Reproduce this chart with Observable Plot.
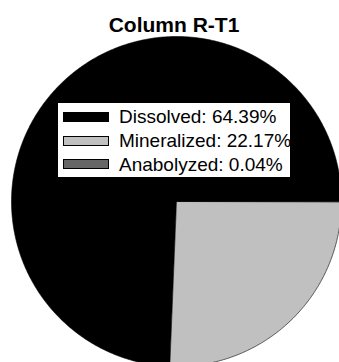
<!DOCTYPE html>
<html>
<head>
<meta charset="utf-8">
<script src="https://cdn.jsdelivr.net/npm/d3@7"></script>
<script src="https://cdn.jsdelivr.net/npm/@observablehq/plot@0.6"></script>
<style>
  html, body { margin: 0; padding: 0; background: #fff; overflow: hidden; }
  body { width: 339px; height: 362px; position: relative; font-family: "Liberation Sans", Arial, sans-serif; }
  #title { position: absolute; left: 0; top: 0; width: 348px; text-align: center;
           font-weight: bold; font-size: 21px; line-height: 21px; padding-top: 14px; color: #000; }
  #chart { position: absolute; left: 0; top: 36px; }
  #legend { position: absolute; left: 57px; top: 102px; width: 232px; height: 74px;
            border: 1px solid #000; background: #fff; }
  .patch { position: absolute; width: 44px; height: 8px; border: 1px solid #000; }
  .label { position: absolute; font-size: 19px; line-height: 19px; white-space: nowrap; color: #000; }
</style>
</head>
<body>
<div id="title"></div>
<div id="chart"></div>
<div id="legend"></div>
<script>
const title = "Column R-T1";
const categories = ["Dissolved", "Mineralized", "Anabolyzed"];
const values = [64.39, 22.17, 0.04];
const labels = ["Dissolved: 64.39%", "Mineralized: 22.17%", "Anabolyzed: 0.04%"];
const palette = ["#000000", "#c0c0c0", "#666666"];

document.getElementById("title").textContent = title;

// slice angles: start at 3 o'clock, counterclockwise, normalized
const total = d3.sum(values);
let acc = 0;
const slices = categories.map((c, i) => {
  const a0 = acc / total * 2 * Math.PI;
  acc += values[i];
  const a1 = acc / total * 2 * Math.PI;
  const pts = [{x: 0, y: 0}];
  const n = Math.max(2, Math.ceil((a1 - a0) / (Math.PI / 360)));
  for (let k = 0; k <= n; k++) {
    const a = a0 + (a1 - a0) * k / n;
    pts.push({x: Math.cos(a), y: Math.sin(a)});
  }
  return {category: c, color: palette[i], pts};
});

const chart = Plot.plot({
  width: 339,
  height: 326,
  margin: 0,
  x: {domain: [-1, 1], range: [11, 341], axis: null},
  y: {domain: [-1, 1], range: [330, 0], axis: null},
  marks: slices.map(s => Plot.line(s.pts, {
    x: "x", y: "y", curve: "linear-closed",
    fill: s.color, stroke: "#000", strokeWidth: 0.6
  }))
});
document.getElementById("chart").appendChild(chart);

// legend
const legend = document.getElementById("legend");
categories.forEach((c, i) => {
  const p = document.createElement("div");
  p.className = "patch";
  p.style.left = (63 - 58) + "px";
  p.style.top = (112 - 103 + i * 23.6) + "px";
  p.style.background = palette[i];
  legend.appendChild(p);
  const t = document.createElement("div");
  t.className = "label";
  t.style.left = (119 - 58) + "px";
  t.style.top = (106.6 - 103 + i * 24.3) + "px";
  t.textContent = labels[i];
  legend.appendChild(t);
});
</script>
</body>
</html>
